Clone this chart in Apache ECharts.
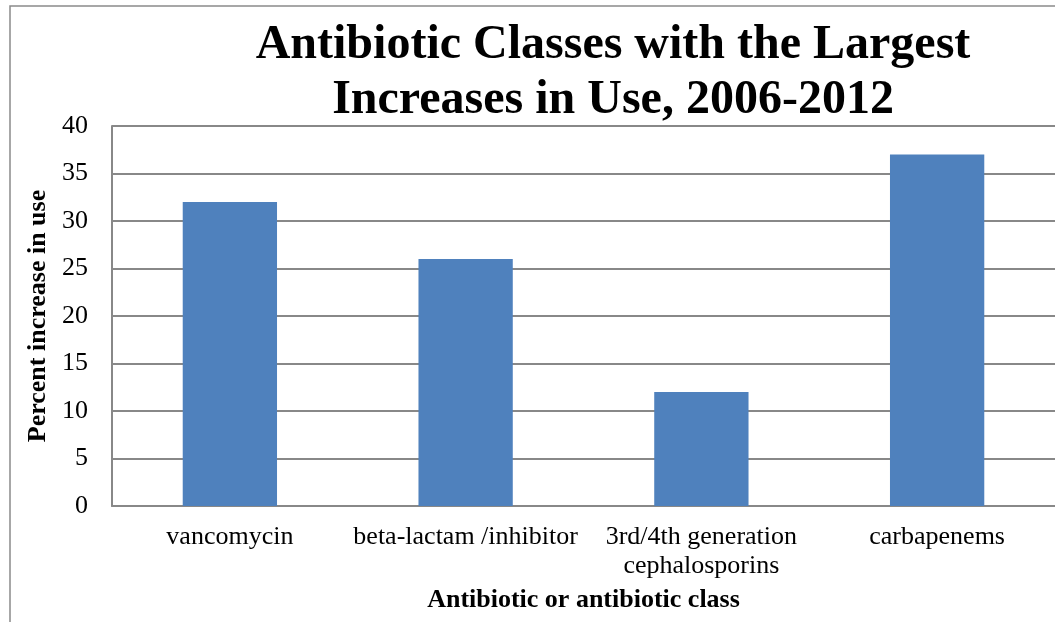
<!DOCTYPE html>
<html>
<head>
<meta charset="utf-8">
<script src="https://cdn.jsdelivr.net/npm/echarts@6/dist/echarts.min.js"></script>
<style>
html,body{margin:0;padding:0;background:#fff;}
#c{width:1055px;height:622px;}
</style>
</head>
<body>
<div id="c"></div>
<script>
const categories = ['vancomycin', 'beta-lactam /inhibitor', '3rd/4th generation\ncephalosporins', 'carbapenems'];
const values = [32, 26, 12, 37];
const yTicks = [0, 5, 10, 15, 20, 25, 30, 35, 40];
const titleText = 'Antibiotic Classes with the Largest\nIncreases in Use, 2006-2012';
const yName = 'Percent increase in use';
const xName = 'Antibiotic or antibiotic class';

const FONT = '"Liberation Serif", "Times New Roman", serif';
const chart = echarts.init(document.getElementById('c'), null, {renderer: 'canvas'});
chart.setOption({
  backgroundColor: '#ffffff',
  animation: false,
  graphic: [
    {type: 'rect', shape: {x: 10, y: 6, width: 2000, height: 2000}, style: {fill: 'none', stroke: '#8a8a8a', lineWidth: 1.5}, z: -1},
    {type: 'text', x: 613, y: 18, style: {text: titleText, textAlign: 'center', fontFamily: FONT, fontWeight: 'bold', fontSize: 48, lineHeight: 55, fill: '#000'}}
  ],
  grid: {left: 112, top: 126, width: 951, height: 380, containLabel: false},
  xAxis: {
    type: 'category',
    data: categories,
    name: xName,
    nameLocation: 'middle',
    nameGap: 81,
    nameTextStyle: {fontFamily: FONT, fontWeight: 'bold', fontSize: 26, color: '#000', lineHeight: 26, verticalAlign: 'top'},
    axisLine: {lineStyle: {color: '#888', width: 2}},
    axisTick: {show: false},
    axisLabel: {fontFamily: FONT, fontSize: 26, color: '#000', margin: 17, lineHeight: 29, interval: 0, verticalAlign: 'top'},
    splitLine: {show: false}
  },
  yAxis: {
    type: 'value',
    min: yTicks[0],
    max: yTicks[yTicks.length - 1],
    interval: yTicks[1] - yTicks[0],
    name: yName,
    nameLocation: 'middle',
    nameGap: 61,
    nameRotate: 90,
    nameTextStyle: {fontFamily: FONT, fontWeight: 'bold', fontSize: 26, color: '#000'},
    axisLine: {show: true, lineStyle: {color: '#888', width: 2}},
    axisTick: {show: false},
    axisLabel: {fontFamily: FONT, fontSize: 26, color: '#000', margin: 24},
    splitLine: {show: true, lineStyle: {color: '#888', width: 2}}
  },
  series: [{
    type: 'bar',
    data: values,
    barWidth: '40%',
    itemStyle: {color: '#4F81BD'}
  }]
});
</script>
</body>
</html>
